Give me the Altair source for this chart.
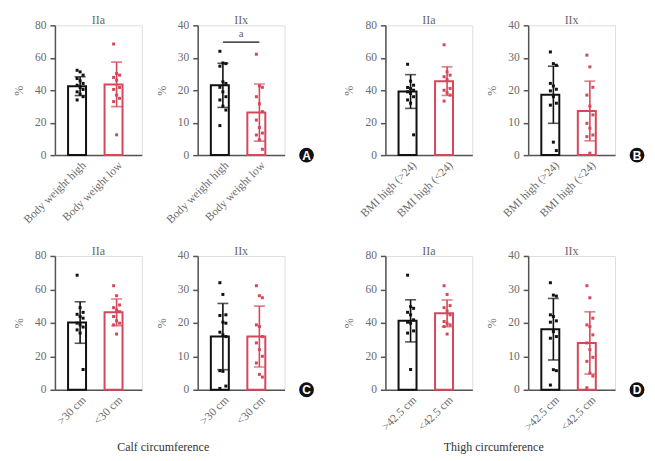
import altair as alt
import pandas as pd

# ---------------- data ----------------
fiber_types = ["IIa", "IIx"]
letters = ["A", "B", "C", "D"]
cats_A = ["Body weight high", "Body weight low"]
cats_B = ["BMI high (>24)", "BMI high (<24)"]
cats_C = [">30 cm", "<30 cm"]
cats_D = [">42.5 cm", "<42.5 cm"]
group_titles = ["Calf circumference", "Thigh circumference"]

A_IIa_high = [52.3, 51.3, 49.3, 47.2, 45.8, 44.2, 43.1, 41.7, 40.5, 39.0, 37.6, 36.0, 34.0]
A_IIa_low = [68.5, 50.3, 49.3, 47.9, 46.2, 41.7, 40.5, 37.0, 35.0, 33.0, 12.5]
A_IIa_mean = [42.5, 43.6]
A_IIa_sd = [5.8, 13.7]
A_IIx_high = [32.0, 28.4, 28.2, 27.4, 22.6, 22.1, 20.9, 19.5, 18.0, 17.0, 15.1, 13.9, 9.1]
A_IIx_low = [31.1, 21.3, 20.9, 18.0, 15.8, 13.4, 10.8, 8.5, 6.8, 6.2, 4.7, 1.8]
A_IIx_mean = [21.5, 13.1]
A_IIx_sd = [6.8, 8.8]
A_IIx_sig = [34.8]
A_IIx_sig_label = ["a"]

B_IIa_high = [56.0, 45.6, 43.1, 41.7, 41.0, 40.0, 39.0, 38.0, 36.0, 34.0, 32.0, 12.5]
B_IIa_low = [68.0, 51.3, 49.3, 48.3, 46.6, 41.1, 40.0, 38.4, 37.0, 33.3]
B_IIa_mean = [39.2, 45.6]
B_IIa_sd = [10.4, 8.8]
B_IIx_high = [31.8, 28.2, 27.7, 22.1, 21.3, 20.3, 19.8, 18.0, 16.0, 15.4, 4.0, 1.4]
B_IIx_low = [30.8, 27.2, 20.9, 18.5, 15.1, 12.4, 9.8, 8.3, 6.2, 5.7, 0.6]
B_IIx_mean = [18.6, 13.6]
B_IIx_sd = [8.8, 9.2]

C_IIa_high = [68.5, 49.1, 46.3, 45.1, 43.8, 42.8, 39.8, 38.8, 37.5, 35.8, 33.9, 12.1]
C_IIa_low = [62.2, 56.2, 50.7, 49.1, 47.7, 46.7, 43.8, 41.2, 39.8, 38.8, 33.3]
C_IIa_mean = [40.2, 46.3]
C_IIa_sd = [12.4, 8.0]
C_IIx_high = [32.0, 28.5, 22.4, 22.2, 20.2, 19.9, 17.2, 16.4, 15.9, 5.7, 5.5, 1.1, 0.4]
C_IIx_low = [31.1, 28.1, 27.5, 19.4, 18.9, 15.9, 14.0, 12.0, 10.0, 8.0, 4.6, 3.8]
C_IIx_mean = [15.9, 15.9]
C_IIx_sd = [9.9, 9.1]

D_IIa_high = [68.5, 49.7, 48.7, 46.3, 44.8, 41.8, 40.4, 39.8, 35.2, 33.9, 12.1]
D_IIa_low = [62.2, 57.0, 50.3, 49.1, 47.1, 44.8, 40.8, 39.8, 38.8, 37.8, 33.3]
D_IIa_mean = [41.2, 45.7]
D_IIa_sd = [12.6, 8.0]
D_IIx_high = [32.0, 28.3, 28.0, 22.4, 21.9, 20.6, 20.2, 17.4, 15.9, 15.4, 6.0, 5.7, 1.4]
D_IIx_low = [31.1, 27.5, 21.4, 19.4, 18.9, 16.4, 14.0, 12.0, 9.7, 8.5, 5.0, 4.1, 0.6]
D_IIx_mean = [18.1, 14.0]
D_IIx_sd = [9.2, 9.3]

# ---------------- styles ----------------
RED = "#d6475a"
BLACK = "#111111"
AXIS = "#555555"
LABEL = "#6a6a6a"
FONT = "Liberation Serif"
FS = 11.5
W = 87
BW = W / 2.38 * 0.66  # band width


def panel(cats, high, low, means, sds, title, ymax, ystep, h,
          sig=None, sig_label=None, letter=None):
    jit_h = [(i % 3) - 1 for i in range(len(high))]
    jit_l = [(i % 3) - 1 for i in range(len(low))]
    pts = pd.DataFrame({
        "g": [cats[0]] * len(high) + [cats[1]] * len(low),
        "v": high + low,
        "j": jit_h + jit_l,
    })
    summ = pd.DataFrame({
        "g": cats,
        "v": means,
        "lo": [m - s for m, s in zip(means, sds)],
        "hi": [m + s for m, s in zip(means, sds)],
    })

    xscale = alt.Scale(domain=cats, paddingInner=0.34, paddingOuter=0.36)
    xaxis = alt.Axis(title=None, labelAngle=-45, ticks=False, labelPadding=4,
                     domainColor=AXIS, domainWidth=1.5, labelFont=FONT,
                     labelFontSize=FS, labelColor=LABEL, labelLimit=200)
    yscale = alt.Scale(domain=[0, ymax], nice=False)
    yaxis = alt.Axis(title="%", values=list(range(0, ymax + 1, ystep)), grid=False,
                     domainColor=AXIS, domainWidth=1.5, tickColor=AXIS, tickWidth=1.5,
                     tickSize=5, labelFont=FONT, labelFontSize=FS, labelColor=LABEL,
                     labelPadding=4, titleFont=FONT, titleFontSize=12,
                     titleFontWeight="normal", titleColor=LABEL, titlePadding=9)
    X = alt.X("g:N", sort=cats, scale=xscale, axis=xaxis)
    col = alt.Scale(domain=cats, range=[BLACK, RED])

    bars = alt.Chart(summ).mark_bar(fill="white", strokeWidth=2).encode(
        x=X, y=alt.Y("v:Q", scale=yscale, axis=yaxis),
        stroke=alt.Stroke("g:N", scale=col, legend=None))
    err = alt.Chart(summ).mark_rule(strokeWidth=1.6).encode(
        x=X, y=alt.Y("lo:Q", scale=yscale, axis=yaxis), y2="hi:Q",
        color=alt.Color("g:N", scale=col, legend=None))
    cap_hi = alt.Chart(summ).mark_tick(thickness=1.6, size=11).encode(
        x=X, y=alt.Y("hi:Q", scale=yscale, axis=yaxis),
        color=alt.Color("g:N", scale=col, legend=None))
    cap_lo = alt.Chart(summ).mark_tick(thickness=1.6, size=11).encode(
        x=X, y=alt.Y("lo:Q", scale=yscale, axis=yaxis),
        color=alt.Color("g:N", scale=col, legend=None))
    dots = alt.Chart(pts).mark_point(filled=True, opacity=1, size=9, shape="square").encode(
        x=X, y=alt.Y("v:Q", scale=yscale, axis=yaxis),
        xOffset=alt.XOffset("j:Q", scale=alt.Scale(domain=[-1, 1],
                                                   range=[BW / 2 - 3, BW / 2 + 3])),
        color=alt.Color("g:N", scale=col, legend=None))
    ttl = alt.Chart(pd.DataFrame({"t": [title]})).mark_text(
        font=FONT, fontSize=12, color=LABEL, baseline="alphabetic").encode(
        x=alt.value(W / 2), y=alt.value(-1), text="t:N")

    layers = [bars, err, cap_hi, cap_lo, dots, ttl]

    if sig is not None:
        sd = pd.DataFrame({"g": cats, "v": sig * 2})
        line = alt.Chart(sd).mark_line(color=BLACK, strokeWidth=1.2).encode(
            x=X, y=alt.Y("v:Q", scale=yscale, axis=yaxis))
        lab = alt.Chart(pd.DataFrame({"t": sig_label, "v": [sig[0] + 1.5]})).mark_text(
            font=FONT, fontSize=11, color=LABEL, baseline="alphabetic").encode(
            x=alt.value(W / 2), y=alt.Y("v:Q", scale=yscale, axis=yaxis), text="t:N")
        layers += [line, lab]

    if letter is not None:
        ld = pd.DataFrame({"t": [letter]})
        circ = alt.Chart(ld).mark_circle(color="#111111", opacity=1, size=220).encode(
            x=alt.value(W + 22), y=alt.value(h))
        ltxt = alt.Chart(ld).mark_text(font="Liberation Sans", fontWeight="bold",
                                       fontSize=12, color="white", baseline="middle").encode(
            x=alt.value(W + 22), y=alt.value(h + 0.5), text="t:N")
        layers += [circ, ltxt]

    return alt.layer(*layers).properties(width=W, height=h)


HT, HB = 130, 134
A1 = panel(cats_A, A_IIa_high, A_IIa_low, A_IIa_mean, A_IIa_sd, fiber_types[0], 80, 20, HT)
A2 = panel(cats_A, A_IIx_high, A_IIx_low, A_IIx_mean, A_IIx_sd, fiber_types[1], 40, 10, HT,
           sig=A_IIx_sig, sig_label=A_IIx_sig_label, letter=letters[0])
B1 = panel(cats_B, B_IIa_high, B_IIa_low, B_IIa_mean, B_IIa_sd, fiber_types[0], 80, 20, HT)
B2 = panel(cats_B, B_IIx_high, B_IIx_low, B_IIx_mean, B_IIx_sd, fiber_types[1], 40, 10, HT,
           letter=letters[1])
C1 = panel(cats_C, C_IIa_high, C_IIa_low, C_IIa_mean, C_IIa_sd, fiber_types[0], 80, 20, HB)
C2 = panel(cats_C, C_IIx_high, C_IIx_low, C_IIx_mean, C_IIx_sd, fiber_types[1], 40, 10, HB,
           letter=letters[2])
D1 = panel(cats_D, D_IIa_high, D_IIa_low, D_IIa_mean, D_IIa_sd, fiber_types[0], 80, 20, HB)
D2 = panel(cats_D, D_IIx_high, D_IIx_low, D_IIx_mean, D_IIx_sd, fiber_types[1], 40, 10, HB,
           letter=letters[3])


def gtitle(t, off):
    return alt.TitleParams(t, orient="bottom", anchor="middle", font=FONT, fontSize=12,
                           fontWeight="normal", color="#333333", offset=off)


S_IN, S_OUT = 12, 28
pairA = alt.hconcat(A1, A2, spacing=S_IN)
pairB = alt.hconcat(B1, B2, spacing=S_IN)
pairC = alt.hconcat(C1, C2, spacing=S_IN).properties(title=gtitle(group_titles[0], 15))
pairD = alt.hconcat(D1, D2, spacing=S_IN).properties(title=gtitle(group_titles[1], 9))
top = alt.hconcat(pairA, pairB, spacing=S_OUT)
bottom = alt.hconcat(pairC, pairD, spacing=S_OUT)

chart = alt.vconcat(top, bottom, spacing=18).properties(
    padding={"left": 4, "top": 5, "right": 2, "bottom": 0}
).configure_view(stroke=None).configure(font=FONT, background="white")

chart.save("out.html", embed_options={"renderer": "svg", "actions": False})
